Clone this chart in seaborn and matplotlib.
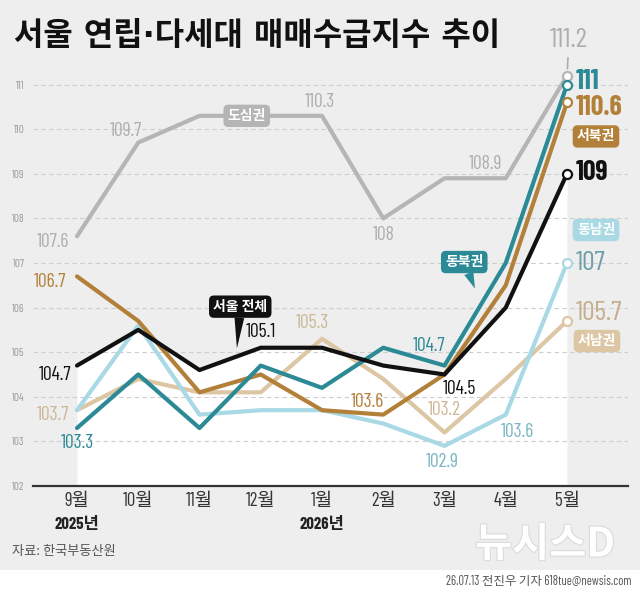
import numpy as np
import pandas as pd
import matplotlib
matplotlib.use("Agg")
import matplotlib.pyplot as plt
import seaborn as sns
from matplotlib import font_manager as fm
from matplotlib.patches import Rectangle
import matplotlib.patheffects as pe

# ---------------- data ----------------
months = ['9월', '10월', '11월', '12월', '1월', '2월', '3월', '4월', '5월']
year_labels = {0: '2025년', 4: '2026년'}
dosim = [107.6, 109.7, 110.3, 110.3, 110.3, 108.0, 108.9, 108.9, 111.2]     # 도심권
seobuk = [106.7, 105.7, 104.1, 104.5, 103.7, 103.6, 104.5, 106.5, 110.6]    # 서북권
seoul = [104.7, 105.5, 104.6, 105.1, 105.1, 104.7, 104.5, 106.0, 109.0]     # 서울 전체
dongbuk = [103.3, 104.5, 103.3, 104.7, 104.2, 105.1, 104.7, 107.0, 111.0]   # 동북권
dongnam = [103.7, 105.6, 103.6, 103.7, 103.7, 103.4, 102.9, 103.6, 107.0]   # 동남권
seonam = [103.7, 104.4, 104.1, 104.1, 105.3, 104.4, 103.2, 104.4, 105.7]    # 서남권
yticks = list(range(102, 112))

# ---------------- style ----------------
sns.set_theme(style="white")
KR = 'Noto Sans CJK KR'


def has_font(name):
    try:
        fm.findfont(fm.FontProperties(family=name), fallback_to_default=False)
        return True
    except Exception:
        return False


NUM = KR
for cand in ['Barlow Condensed', 'Roboto Condensed', 'Fira Sans Extra Condensed',
             'IBM Plex Sans Condensed', 'Liberation Sans Narrow']:
    if has_font(cand):
        NUM = cand
        break
LAT = 'DejaVu Sans' if has_font('DejaVu Sans') else KR
plt.rcParams['font.family'] = [KR, 'DejaVu Sans']

BG = '#eeeeee'
C_DOSIM = '#b5b5b5'
C_SEOBUK = '#b3803a'
C_SEOUL = '#111111'
C_DONGBUK = '#2b8a96'
C_DONGNAM = '#a8d9e4'
C_SEONAM = '#dcc6a4'

W, H = 640, 593
fig = plt.figure(figsize=(W / 100, H / 100), dpi=100, facecolor=BG)
fig.add_artist(Rectangle((0, 0), 1, (H - 570) / H, transform=fig.transFigure,
                         facecolor='white', edgecolor='none', zorder=-5))

# axes geometry (pixels)
x_left, x_right, y_base, y_top = 33, 628, 486, 55
px_unit_x, px_unit_y = 61.25, 44.6
ax = fig.add_axes([x_left / W, (H - y_base) / H, (x_right - x_left) / W, (y_base - y_top) / H])
ax.set_facecolor('none')
ax.set_xlim((x_left - 77) / px_unit_x, (x_right - 77) / px_unit_x)
ax.set_ylim(102, 102 + (y_base - y_top) / px_unit_y)

idx = list(range(len(months)))
ax.fill_between(idx, seoul, 102, color='white', lw=0, zorder=0.2)

series = {'도심권': dosim, '서남권': seonam, '동남권': dongnam,
          '서북권': seobuk, '동북권': dongbuk, '서울 전체': seoul}
palette = {'도심권': C_DOSIM, '서남권': C_SEONAM, '동남권': C_DONGNAM,
           '서북권': C_SEOBUK, '동북권': C_DONGBUK, '서울 전체': C_SEOUL}
rows = []
for name, vals in series.items():
    for i, v in enumerate(vals):
        rows.append({'region': name, 'idx': i, 'value': v})
df = pd.DataFrame(rows)
sns.lineplot(data=df, x='idx', y='value', hue='region', hue_order=list(series.keys()),
             palette=palette, linewidth=3.0, legend=False, ax=ax, sort=False,
             estimator=None, zorder=2)

# end circles
for name, vals in series.items():
    ax.plot([idx[-1]], [vals[-1]], marker='o', ms=6.5, mfc='white', mec=palette[name],
            mew=1.6, zorder=5, clip_on=False)

# axes styling
for s in ['top', 'right', 'left']:
    ax.spines[s].set_visible(False)
ax.spines['bottom'].set_color('#333333')
ax.spines['bottom'].set_linewidth(1.6)
ax.set_xticks(idx)
ax.set_xticklabels(months, family=[NUM, KR], fontsize=13.5, color='#333333')
ax.tick_params(axis='x', direction='in', length=6, width=1.3, color='#333333', pad=4)
ax.set_yticks(yticks)
ax.set_yticklabels([str(t) for t in yticks], family=[NUM, KR], fontsize=8, color='#9a9a9a')
ax.tick_params(axis='y', length=0, pad=6)
ax.yaxis.grid(True, linestyle=(0, (4, 3)), color='#cdcdcd', linewidth=0.8)
ax.set_axisbelow(True)
ax.set_xlabel('')
ax.set_ylabel('')

for i, yl in year_labels.items():
    ax.annotate(yl, xy=(i, 0), xycoords=('data', 'axes fraction'), xytext=(0, -38),
                textcoords='offset pixels', ha='center', va='center', fontsize=12,
                fontweight='bold', color='#222222', family=[NUM, KR])


# value labels
def lab(vals, i, dx, dy, color, size=14, weight='normal', ha='center', line=False):
    kw = {}
    if line:
        kw['arrowprops'] = dict(arrowstyle='-', color=color, lw=1.2, shrinkA=2, shrinkB=5)
    ax.annotate(f"{vals[i]:g}", xy=(i, vals[i]), xytext=(dx, dy), textcoords='offset pixels',
                ha=ha, va='center', color=color, fontsize=size, fontweight=weight,
                family=[NUM, KR], zorder=6, annotation_clip=False, **kw)


BIG = 20
LBL_DOSIM = '#aeaeae'
LBL_DONGNAM = '#78b6c2'
LBL_SEONAM = '#cbb797'
lab(dosim, 0, -24, -6, LBL_DOSIM)
lab(dosim, 1, -12, 12, LBL_DOSIM)
lab(dosim, 4, -2, 14, LBL_DOSIM)
lab(dosim, 5, 0, -17, LBL_DOSIM)
lab(dosim, 7, -20, 14, LBL_DOSIM)
lab(dosim, 8, 2, 36, LBL_DOSIM, size=BIG, line=True)

lab(seobuk, 0, -27, -6, C_SEOBUK)
lab(seobuk, 5, -16, 13, C_SEOBUK)
lab(seobuk, 8, 9, -5, C_SEOBUK, size=BIG, weight='bold', ha='left')

lab(seoul, 0, -22, -9, '#111111')
lab(seoul, 3, 0, 16, '#111111')
lab(seoul, 6, 15, -15, '#111111')
lab(seoul, 8, 9, 1, '#111111', size=BIG, weight='bold', ha='left')

lab(dongbuk, 0, 0, -15, C_DONGBUK)
lab(dongbuk, 6, -16, 20, C_DONGBUK)
lab(dongbuk, 8, 9, 3, C_DONGBUK, size=BIG, weight='bold', ha='left')

lab(dongnam, 6, -2, -16, LBL_DONGNAM)
lab(dongnam, 7, 12, -17, LBL_DONGNAM)
lab(dongnam, 8, 9, 0, '#6e9fa8', size=BIG, ha='left')

lab(seonam, 0, -24, -5, LBL_SEONAM)
lab(seonam, 4, -10, 16, LBL_SEONAM)
lab(seonam, 6, 0, 22, LBL_SEONAM)
lab(seonam, 8, 9, 8, '#c4ae8c', size=BIG, ha='left')


# name tags
def tag(text, xy, dx, dy, fc, pointer=False, shrink=0):
    kw = {}
    if pointer:
        kw['arrowprops'] = dict(arrowstyle='wedge,tail_width=0.7,shrink_factor=0.5',
                                fc=fc, ec='none', shrinkA=0, shrinkB=shrink)
    ax.annotate(text, xy=xy, xytext=(dx, dy), textcoords='offset pixels',
                ha='center', va='center', color='white', fontsize=10, fontweight='bold',
                family=KR, zorder=7, annotation_clip=False,
                bbox=dict(boxstyle='round,pad=0.3,rounding_size=0.35', fc=fc, ec='none'), **kw)


tag('도심권', (3, dosim[3]), -14, 0, C_DOSIM)
tag('서북권', (8, seobuk[8]), 29, -34, C_SEOBUK)
tag('동남권', (8, dongnam[8]), 29, 33, C_DONGNAM)
tag('서남권', (8, seonam[8]), 30, -20, C_SEONAM)
t = 0.6
tag('동북권', (6 + t, dongbuk[6] + t * (dongbuk[7] - dongbuk[6])), -17, 42, C_DONGBUK,
    pointer=True, shrink=12)
tag('서울 전체', (2 + t, seoul[2] + t * (seoul[3] - seoul[2])), 4, 50, C_SEOUL,
    pointer=True, shrink=6)

# texts
fig.text(14 / W, 1 - 36 / H, '서울 연립·다세대 매매수급지수 추이', fontsize=23,
         fontweight='bold', color='#111111', va='center', ha='left', family=[LAT, KR])
fig.text(12 / W, 1 - 552 / H, '자료: 한국부동산원', fontsize=9.5, color='#555555',
         va='center', ha='left', family=KR)
fig.text(632 / W, 1 - 582 / H, '26.07.13 전진우 기자 618tue@newsis.com', fontsize=9,
         color='#555555', va='center', ha='right', family=[NUM, KR])
logo = fig.text(545 / W, 1 - 545 / H, '뉴시스D', fontsize=29, fontweight='bold',
                color='white', va='center', ha='center', family=KR, zorder=3)
logo.set_path_effects([pe.withStroke(linewidth=1.5, foreground='#d9d9d9')])

fig.savefig('out.png', dpi=100, facecolor=BG)
